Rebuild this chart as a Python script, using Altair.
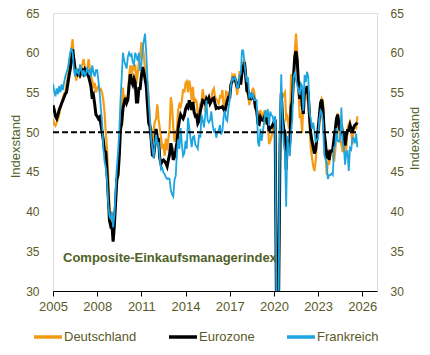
import altair as alt
import pandas as pd

START_YEAR = 2005
series_names = ["Deutschland", "Eurozone", "Frankreich"]
series_colors = ["#F59C14", "#000000", "#1CA5E0"]
series_widths = [2.2, 3.0, 1.8]

de = [
    51.7, 51.0, 50.8, 51.2, 51.6, 52.2, 53.0, 53.6, 54.2, 54.8, 55.0, 56.0,
    57.0, 57.8, 59.0, 60.5, 61.7, 59.5, 57.5, 56.5, 58.0, 57.5, 56.8, 58.2,
    58.6, 59.2, 58.0, 57.3, 58.0, 59.2, 58.0, 57.0, 56.5, 55.8, 56.2, 55.0,
    55.6, 55.8, 55.2, 55.4, 55.0, 54.0, 52.5, 50.0, 48.0, 44.6, 40.8, 39.1,
    39.0, 36.5, 38.6, 41.4, 44.9, 44.8, 47.3, 51.9, 52.8, 55.6, 53.6, 54.4,
    54.2, 54.5, 57.0, 58.4, 56.9, 58.4, 58.0, 58.5, 56.1, 57.3, 58.9, 59.5,
    61.3, 60.9, 59.7, 57.8, 56.3, 56.3, 54.2, 51.3, 50.3, 48.8, 50.3, 51.3,
    51.7, 53.5, 51.6, 50.5, 49.3, 48.1, 48.3, 47.0, 49.2, 47.7, 49.2, 50.3,
    54.4, 53.3, 50.6, 48.8, 49.9, 50.4, 52.8, 53.5, 53.2, 53.9, 55.4, 55.0,
    56.2, 56.4, 55.0, 56.5, 55.6, 54.0, 55.7, 53.7, 54.1, 53.9, 52.1, 52.0,
    53.5, 53.8, 55.4, 54.1, 52.6, 53.7, 53.7, 54.0, 54.1, 54.2, 55.2, 55.5,
    54.5, 54.1, 54.0, 53.6, 54.5, 54.4, 55.3, 53.3, 52.8, 55.1, 55.0, 54.3,
    54.8, 56.1, 57.1, 56.7, 57.4, 56.4, 54.7, 55.8, 57.7, 56.6, 57.3, 58.9,
    59.0, 57.6, 55.1, 54.6, 53.4, 54.8, 55.0, 55.6, 55.0, 53.4, 52.3, 51.6,
    52.1, 52.8, 51.4, 52.2, 52.6, 52.6, 50.9, 51.7, 48.5, 48.9, 49.4, 50.2,
    51.2, 50.7, 35.0, 17.4, 32.3, 47.0, 55.3, 54.4, 54.7, 55.0, 51.7, 52.0,
    50.8, 51.1, 57.3, 55.8, 56.2, 60.1, 62.4, 60.0, 55.5, 52.0, 52.2, 49.9,
    53.8, 55.6, 55.1, 54.3, 53.7, 51.3, 48.1, 46.9, 45.7, 45.1, 46.3, 49.0,
    49.9, 50.7, 52.6, 54.2, 53.9, 50.6, 48.5, 44.6, 46.4, 45.9, 47.8, 47.4,
    47.0, 46.3, 47.7, 50.6, 52.4, 50.4, 49.1, 48.4, 47.5, 48.6, 47.2, 48.0,
    50.5, 51.0, 51.3, 50.1, 48.5, 50.4, 50.6, 50.5, 52.0,
]

ez = [
    53.4, 52.8, 52.0, 51.7, 52.2, 52.8, 53.2, 53.6, 54.0, 54.4, 54.8, 55.0,
    56.0, 57.0, 57.9, 59.0, 60.4, 59.2, 58.0, 57.6, 57.3, 57.6, 57.2, 57.6,
    57.8, 57.4, 57.9, 57.6, 57.3, 57.0, 56.4, 55.7, 54.2, 54.6, 53.5, 52.2,
    52.0, 51.7, 51.9, 51.0, 50.0, 49.0, 47.6, 47.5, 45.0, 42.0, 38.9, 38.2,
    38.4, 36.2, 38.3, 41.1, 44.0, 44.6, 47.0, 50.4, 51.1, 53.0, 53.7, 54.3,
    53.7, 54.1, 55.9, 57.3, 56.4, 56.0, 56.7, 56.2, 53.8, 53.8, 55.5, 55.5,
    57.0, 58.2, 57.6, 56.7, 55.8, 53.3, 51.1, 50.7, 49.1, 47.1, 47.0, 48.3,
    50.4, 49.3, 49.1, 46.7, 46.0, 46.4, 46.5, 46.3, 46.1, 45.7, 46.5, 47.2,
    48.6, 47.9, 46.5, 46.9, 47.7, 48.7, 50.5, 51.5, 52.2, 51.9, 51.7, 52.1,
    52.9, 53.3, 53.1, 54.0, 53.5, 52.8, 53.8, 52.5, 52.0, 52.1, 51.1, 51.4,
    52.6, 53.3, 54.0, 53.9, 53.6, 54.2, 53.9, 54.3, 53.6, 53.9, 54.2, 54.3,
    53.6, 53.0, 53.1, 53.0, 53.1, 53.1, 53.2, 52.9, 52.6, 53.3, 53.9, 54.4,
    54.4, 56.0, 56.4, 56.8, 56.8, 56.3, 55.7, 55.7, 56.7, 56.0, 57.5, 58.1,
    58.8, 57.1, 55.2, 55.1, 54.1, 54.9, 54.3, 54.5, 54.1, 53.1, 52.7, 51.1,
    51.0, 51.9, 51.6, 51.5, 51.8, 52.2, 51.5, 51.9, 50.1, 50.6, 50.6, 50.9,
    51.3, 51.6, 29.7, 13.6, 31.9, 48.5, 54.9, 51.9, 50.4, 50.0, 45.3, 49.1,
    47.8, 48.8, 53.2, 53.8, 57.1, 59.5, 60.2, 59.0, 56.2, 54.2, 55.4, 53.3,
    52.3, 55.5, 54.9, 55.8, 54.8, 52.0, 49.9, 48.9, 48.1, 47.3, 47.8, 49.3,
    50.3, 52.0, 53.7, 54.1, 52.8, 49.9, 48.6, 46.7, 47.2, 46.5, 47.6, 47.6,
    47.9, 49.2, 50.3, 51.7, 52.2, 50.9, 50.2, 51.0, 49.6, 50.0, 48.3, 49.6,
    50.2, 50.2, 50.9, 50.4, 50.2, 50.6, 50.9, 51.0, 51.2,
]

fr = [
    56.1, 55.2, 54.5, 55.5, 54.8, 55.8, 55.0, 56.0, 55.3, 56.2, 57.0, 57.5,
    58.0, 59.0, 60.0, 60.6, 60.0, 58.0, 57.0, 58.0, 57.5, 57.3, 58.5, 57.8,
    57.3, 57.8, 57.0, 57.5, 58.0, 57.5, 57.8, 57.0, 58.4, 57.5, 57.0, 57.8,
    57.8, 56.5, 55.0, 53.0, 51.3, 48.0, 46.3, 45.5, 44.0, 41.0, 39.5, 39.0,
    40.0, 38.0, 39.5, 42.5, 45.5, 47.5, 50.0, 54.0, 57.0, 60.0, 59.0, 58.5,
    58.0, 59.5, 60.0, 59.6, 59.8, 58.8, 58.5, 60.0, 59.5, 59.0, 60.0, 57.7,
    58.5, 60.5, 61.5, 62.4, 60.0, 56.5, 54.0, 51.7, 49.0, 48.0, 46.7, 48.5,
    49.7, 48.5, 48.6, 46.7, 45.3, 45.5, 44.9, 44.7, 44.3, 44.1, 44.2, 44.1,
    42.7, 42.2, 41.9, 44.0, 44.5, 47.4, 49.1, 47.9, 50.5, 48.5, 47.0, 47.3,
    48.9, 47.9, 51.8, 50.6, 49.3, 48.1, 49.4, 49.5, 48.4, 48.2, 47.9, 49.7,
    49.3, 52.2, 51.5, 50.6, 52.0, 54.0, 51.5, 51.2, 51.5, 52.6, 51.0, 50.1,
    50.3, 49.3, 50.0, 50.2, 50.9, 49.7, 50.1, 51.9, 52.7, 51.6, 51.4, 53.1,
    54.1, 55.9, 56.8, 56.6, 56.9, 56.6, 55.6, 55.6, 57.1, 57.4, 60.3, 60.3,
    58.6, 57.3, 56.3, 56.9, 54.2, 55.0, 54.4, 54.9, 54.0, 54.1, 54.0, 48.7,
    48.2, 50.4, 48.9, 50.1, 51.2, 52.7, 51.9, 52.9, 50.8, 52.6, 52.1, 52.0,
    51.1, 52.0, 28.9, 11.1, 32.1, 51.7, 57.3, 51.6, 48.5, 47.5, 40.6, 49.5,
    47.7, 47.0, 50.0, 51.6, 57.0, 57.4, 56.6, 55.9, 55.3, 54.7, 56.1, 55.8,
    52.7, 57.2, 56.3, 57.6, 57.0, 52.5, 51.7, 50.4, 51.2, 50.2, 48.7, 49.1,
    49.1, 51.7, 52.7, 52.4, 51.2, 47.2, 46.6, 46.0, 44.1, 44.6, 44.6, 44.8,
    44.6, 48.1, 48.3, 50.5, 48.9, 48.8, 49.1, 53.1, 48.6, 48.1, 45.9, 47.5,
    47.6, 45.1, 48.0, 47.8, 49.3, 49.2, 48.6, 49.8, 48.1,
]

x_ticks = [2005, 2008, 2011, 2014, 2017, 2020, 2023, 2026]
y_ticks = [30, 35, 40, 45, 50, 55, 60, 65]
x_domain = [2005, 2027]
y_domain = [30, 65]
ref_level = 50
y_title = "Indexstand"
annotation = "Composite-Einkaufsmanagerindex"
annotation_pos = [2005.68, 34.1]

LABEL = "#5A5A28"
TITLE = "#4F6228"
FONT = "Liberation Sans"

rows = []
for name, vals in zip(series_names, [de, ez, fr]):
    for i, v in enumerate(vals):
        rows.append({"t": START_YEAR + i / 12, "serie": name, "wert": v})
df = pd.DataFrame(rows)
last_t = START_YEAR + (len(ez) - 1) / 12

xscale = alt.Scale(domain=x_domain, nice=False, zero=False)
yscale = alt.Scale(domain=y_domain, nice=False, zero=False)
cscale = alt.Scale(domain=series_names, range=series_colors)

x_axis = alt.Axis(values=x_ticks, format="d", title=None, grid=False,
                  domainColor="black", domainWidth=1, tickColor="black",
                  tickSize=5, labelFontSize=13, labelColor=LABEL,
                  labelPadding=4, labelFont=FONT, labelFlush=False,
                  labelOverlap=False)

left_axis = alt.Axis(values=y_ticks, title=y_title, grid=False, domain=False,
                     ticks=False, labelFontSize=12, labelColor=LABEL,
                     labelPadding=14, labelFont=FONT, titleFont=FONT,
                     titleFontSize=13, titleFontWeight="normal",
                     titleColor=TITLE, titleAngle=270, titleX=-38, titleY=133,
                     titleBaseline="middle", titleAlign="center")

right_axis = alt.Axis(values=y_ticks, title=y_title, orient="right", grid=False,
                      domain=False, ticks=False, labelFontSize=12,
                      labelColor=LABEL, labelPadding=13, labelFont=FONT,
                      titleFont=FONT, titleFontSize=13, titleFontWeight="normal",
                      titleColor=TITLE, titleAngle=270, titleX=37, titleY=125,
                      titleBaseline="middle", titleAlign="center")

legend = alt.Legend(title=None, orient="none", direction="horizontal",
                    legendX=-21, legendY=308, symbolType="stroke",
                    symbolStrokeWidth=3.5, symbolSize=784, labelFontSize=13,
                    labelColor=LABEL, labelFont=FONT, columnPadding=25,
                    labelOffset=0, padding=0)

line_layers = []
for name, w in zip(series_names, series_widths):
    line_layers.append(
        alt.Chart(df)
        .transform_filter(alt.datum.serie == name)
        .mark_line(strokeWidth=w, clip=True)
        .encode(
            x=alt.X("t:Q", scale=xscale, axis=x_axis),
            y=alt.Y("wert:Q", scale=yscale, axis=left_axis),
            color=alt.Color("serie:N", scale=cscale, legend=legend),
        )
    )

ann_df = pd.DataFrame({"x": [annotation_pos[0]], "y": [annotation_pos[1]],
                       "txt": [annotation]})
ann = alt.Chart(ann_df).mark_text(
    align="left", baseline="middle", fontSize=13, fontWeight="bold",
    color=TITLE, font=FONT
).encode(
    x=alt.X("x:Q", scale=xscale, axis=x_axis),
    y=alt.Y("y:Q", scale=yscale, axis=left_axis),
    text="txt:N",
)

left = alt.layer(*line_layers, ann)

ref_df = pd.DataFrame({"x0": [START_YEAR], "x1": [last_t], "y": [ref_level]})
ref = alt.Chart(ref_df).mark_rule(
    color="black", strokeWidth=2, strokeDash=[6, 3]
).encode(
    x=alt.X("x0:Q", scale=xscale, axis=x_axis),
    x2="x1:Q",
    y=alt.Y("y:Q", scale=yscale, axis=right_axis),
)

chart = (
    alt.layer(left, ref)
    .resolve_scale(y="independent")
    .properties(width=324, height=278, autosize=alt.AutoSizeParams(type="none"),
                padding={"left": 45, "top": 5, "right": 45, "bottom": 56})
    .configure_view(stroke=None)
    .configure(font=FONT)
)

chart.save("out.html", embed_options={"renderer": "svg", "actions": False})
